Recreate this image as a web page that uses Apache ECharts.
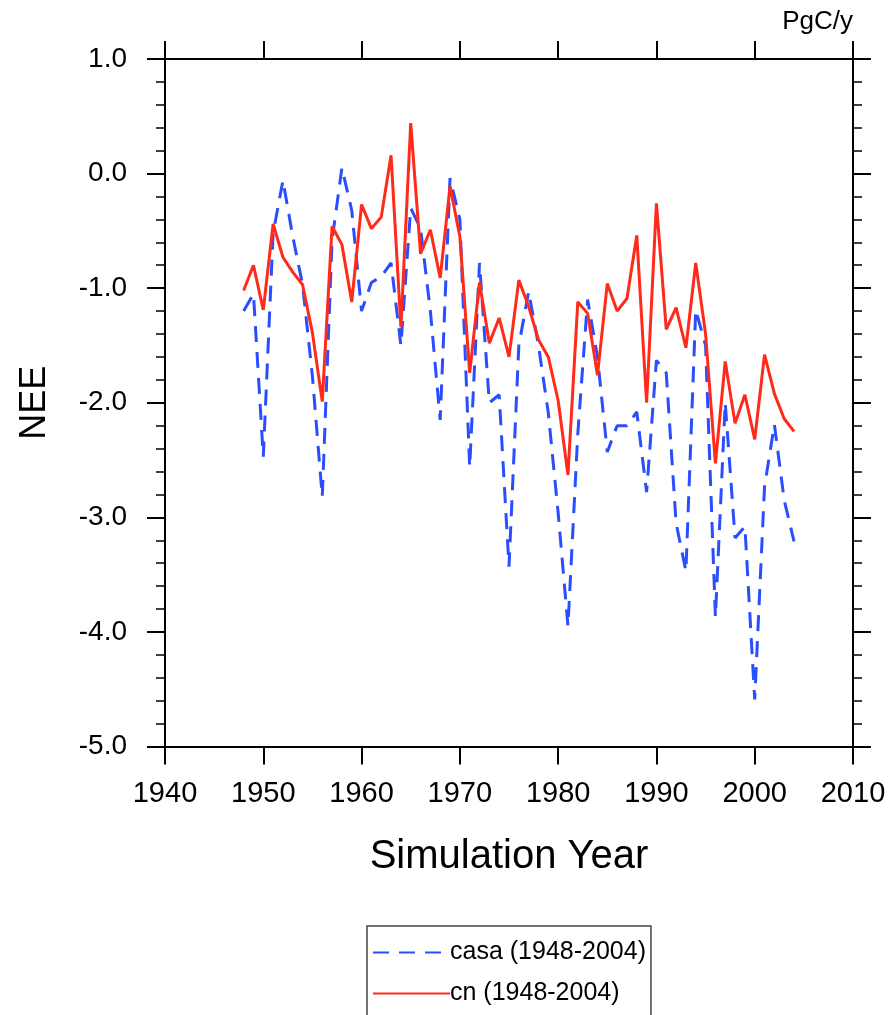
<!DOCTYPE html>
<html>
<head>
<meta charset="utf-8">
<title>NEE simulation</title>
<script src="https://cdn.jsdelivr.net/npm/echarts@6/dist/echarts.min.js"></script>
<style>
  html, body { margin: 0; padding: 0; background: #fff; }
  #chart { width: 890px; height: 1015px; }
</style>
</head>
<body>
<div id="chart"></div>
<script>
// Simulation years (annual values, 1948-2004)
const years = [
  1948, 1949, 1950, 1951, 1952, 1953, 1954, 1955, 1956, 1957,
  1958, 1959, 1960, 1961, 1962, 1963, 1964, 1965, 1966, 1967,
  1968, 1969, 1970, 1971, 1972, 1973, 1974, 1975, 1976, 1977,
  1978, 1979, 1980, 1981, 1982, 1983, 1984, 1985, 1986, 1987,
  1988, 1989, 1990, 1991, 1992, 1993, 1994, 1995, 1996, 1997,
  1998, 1999, 2000, 2001, 2002, 2003, 2004
];

// NEE from the casa run (PgC/y)
const casa = [
  -1.20, -1.05, -2.47, -0.52, -0.06, -0.55, -0.97, -1.77, -2.82, -0.58,
   0.05, -0.32, -1.20, -0.95, -0.90, -0.78, -1.50, -0.30, -0.48, -1.20,
  -2.15, -0.04, -0.40, -2.56, -0.78, -2.00, -1.93, -3.43, -1.50, -1.03,
  -1.50, -2.09, -2.96, -3.95, -2.27, -1.10, -1.60, -2.43, -2.20, -2.20,
  -2.08, -2.78, -1.63, -1.74, -3.05, -3.47, -1.19, -1.50, -3.87, -2.00,
  -3.18, -3.08, -4.59, -2.73, -2.19, -2.85, -3.21
];

// NEE from the cn run (PgC/y)
const cn = [
  -1.02, -0.80, -1.19, -0.44, -0.73, -0.86, -0.97, -1.39, -1.99, -0.46,
  -0.62, -1.12, -0.27, -0.48, -0.38,  0.16, -1.34,  0.44, -0.70, -0.49,
  -0.91, -0.11, -0.55, -1.74, -0.95, -1.48, -1.26, -1.60, -0.93, -1.16,
  -1.45, -1.60, -1.98, -2.63, -1.12, -1.22, -1.76, -0.96, -1.20, -1.09,
  -0.54, -2.00, -0.26, -1.36, -1.17, -1.52, -0.78, -1.40, -2.53, -1.64,
  -2.18, -1.93, -2.32, -1.58, -1.92, -2.14, -2.25
];

const seriesNames = ['casa (1948-2004)', 'cn (1948-2004)'];
const xTitle = 'Simulation Year';
const yTitle = 'NEE';
const unitLabel = 'PgC/y';

const FONT = '"Liberation Sans", Arial, Helvetica, sans-serif';
const AX = { color: '#000', width: 2 };
const BLUE = '#2a4dff';
const RED = '#ff2a1a';

const chart = echarts.init(document.getElementById('chart'), null, { renderer: 'canvas' });

const pairs = vals => years.map((yr, i) => [yr, vals[i]]);

chart.setOption({
  backgroundColor: '#fff',
  animation: false,
  title: {
    text: unitLabel,
    right: 37,
    top: 9,
    padding: 0,
    textStyle: { fontFamily: FONT, fontSize: 26, fontWeight: 'normal', color: '#000' }
  },
  grid: { left: 165, right: 37, top: 59, bottom: 268.5, containLabel: false },
  legend: {
    orient: 'vertical',
    left: 367,
    top: 926,
    height: 200,
    itemWidth: 77,
    itemHeight: 14,
    itemGap: 16,
    padding: [14, 5, 40, 5],
    borderColor: '#444',
    borderWidth: 1.5,
    selectedMode: false,
    itemStyle: { opacity: 0 },
    textStyle: { fontFamily: FONT, fontSize: 25, color: '#000', padding: [0, 0, 0, -5] },
    data: seriesNames
  },
  xAxis: [
    {
      type: 'value', position: 'bottom', min: 1940, max: 2010, interval: 10,
      name: xTitle, nameLocation: 'middle', nameGap: 90,
      nameTextStyle: { fontFamily: FONT, fontSize: 40, color: '#000' },
      axisLine: { show: true, onZero: false, lineStyle: AX },
      axisTick: { show: true, length: 18, lineStyle: AX },
      axisLabel: { margin: 33, fontFamily: FONT, fontSize: 29, color: '#000', formatter: v => String(v) },
      splitLine: { show: false }
    },
    {
      type: 'value', position: 'top', min: 1940, max: 2010, interval: 10,
      axisLine: { show: true, onZero: false, lineStyle: AX },
      axisTick: { show: true, length: 18, lineStyle: AX },
      axisLabel: { show: false },
      splitLine: { show: false }
    }
  ],
  yAxis: [
    {
      type: 'value', position: 'left', min: -5, max: 1, interval: 1,
      name: yTitle, nameLocation: 'middle', nameGap: 112, nameRotate: 90,
      nameTextStyle: { fontFamily: FONT, fontSize: 36, color: '#000' },
      axisLine: { show: true, onZero: false, lineStyle: AX },
      axisTick: { show: true, length: 18, lineStyle: AX },
      minorTick: { show: true, splitNumber: 5, length: 9, lineStyle: { color: '#000', width: 1.5 } },
      axisLabel: {
        margin: 38, fontFamily: FONT, fontSize: 28, color: '#000',
        formatter: v => v.toFixed(1)
      },
      splitLine: { show: false },
      minorSplitLine: { show: false }
    },
    {
      type: 'value', position: 'right', min: -5, max: 1, interval: 1,
      axisLine: { show: true, onZero: false, lineStyle: AX },
      axisTick: { show: true, length: 18, lineStyle: AX },
      minorTick: { show: true, splitNumber: 5, length: 9, lineStyle: { color: '#000', width: 1.5 } },
      axisLabel: { show: false },
      splitLine: { show: false },
      minorSplitLine: { show: false }
    }
  ],
  series: [
    {
      name: seriesNames[0],
      type: 'line',
      data: pairs(casa),
      symbol: 'none',
      color: BLUE,
      lineStyle: { color: BLUE, width: 3, type: [16, 10] },
      z: 2
    },
    {
      name: seriesNames[1],
      type: 'line',
      data: pairs(cn),
      symbol: 'none',
      color: RED,
      lineStyle: { color: RED, width: 3, type: 'solid' },
      z: 3
    }
  ]
});
</script>
</body>
</html>
